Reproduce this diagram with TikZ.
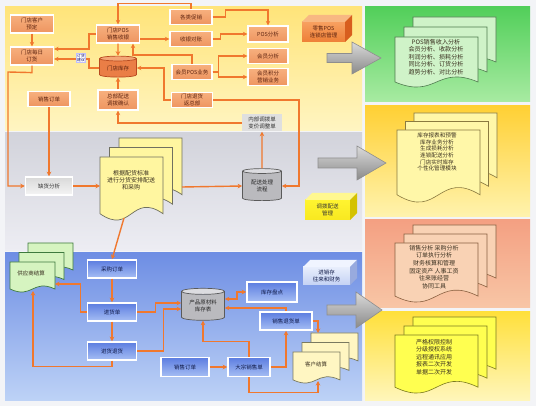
\documentclass[tikz,border=0pt]{standalone}
\usepackage{fontspec}
\setmainfont{Noto Sans CJK SC}
\usetikzlibrary{shapes.geometric,arrows.meta,calc}
\definecolor{pagebg}{HTML}{F3F4F7}
\definecolor{ylwtop}{HTML}{FFE47A}
\definecolor{ylwbot}{HTML}{FFF5C2}
\definecolor{grytop}{HTML}{D2D3DB}
\definecolor{grybot}{HTML}{EDEDF3}
\definecolor{blutop}{HTML}{6E8EE4}
\definecolor{blubot}{HTML}{BDD2F6}
\definecolor{grntop}{HTML}{52CF5A}
\definecolor{grnbot}{HTML}{A8EBA2}
\definecolor{y2top}{HTML}{FFD034}
\definecolor{y2bot}{HTML}{FFF3AE}
\definecolor{saltop}{HTML}{F4A082}
\definecolor{salbot}{HTML}{F8C6A6}
\definecolor{y3top}{HTML}{FFE03C}
\definecolor{y3bot}{HTML}{FFF6BA}
\definecolor{lineor}{HTML}{F0782E}
\definecolor{obtop}{HTML}{F7B07E}
\definecolor{obbot}{HTML}{EE9560}
\definecolor{otext}{HTML}{5E2410}
\definecolor{bbtop}{HTML}{5C7DE0}
\definecolor{bbbot}{HTML}{A6BEF4}
\definecolor{btext}{HTML}{101A48}
\definecolor{dtext}{HTML}{3A3020}
\definecolor{gdoc}{HTML}{CFF3C8}
\definecolor{gdocl}{HTML}{4E7A4E}
\definecolor{ydoc}{HTML}{FFF7A8}
\definecolor{ydocl}{HTML}{8A7A40}
\definecolor{sdoc}{HTML}{F9D2B4}
\definecolor{sdocl}{HTML}{8A6040}
\definecolor{bdoc}{HTML}{FFFF50}
\definecolor{bdocl}{HTML}{7A7A20}
\definecolor{mdoc}{HTML}{FFF6A0}
\definecolor{mdocl}{HTML}{707060}
\definecolor{spdoc}{HTML}{D6F4C0}
\definecolor{spdocl}{HTML}{3E7A3E}
\definecolor{kdoc}{HTML}{FFF6C2}
\definecolor{kdocl}{HTML}{7A7A60}
\definecolor{cyOl}{HTML}{B84A20}
\definecolor{cyObody}{HTML}{EA7E46}
\definecolor{cyOend}{HTML}{F3A676}
\definecolor{cyGl}{HTML}{5A5A5A}
\definecolor{cyGbody}{HTML}{BABABE}
\definecolor{cyGend}{HTML}{DCDCE0}
\definecolor{arrl}{HTML}{8E8E8E}
\definecolor{arrtop}{HTML}{DADADA}
\definecolor{arrbot}{HTML}{8A8A8A}
\definecolor{cuOf1}{HTML}{F7A060}
\definecolor{cuOf2}{HTML}{EE7F36}
\definecolor{cuOt}{HTML}{F8B882}
\definecolor{cuOs}{HTML}{D85E1E}
\definecolor{cuYf1}{HTML}{FFF430}
\definecolor{cuYf2}{HTML}{F8E820}
\definecolor{cuYt}{HTML}{FFF890}
\definecolor{cuYs}{HTML}{D4C200}
\definecolor{cuBf1}{HTML}{E8EEFC}
\definecolor{cuBf2}{HTML}{C4D2F4}
\definecolor{cuBt}{HTML}{F0F4FF}
\definecolor{cuBs}{HTML}{98AADE}
\newcommand\bxf{\fontsize{5.5}{6.6}\selectfont}
\newcommand\gfnt{\fontsize{6.1}{7.5}\selectfont}
\newcommand\yfnt{\fontsize{5.6}{6.6}\selectfont}
\newcommand\sfnt{\fontsize{6}{7.6}\selectfont}
\newcommand\mfnt{\fontsize{6}{6.8}\selectfont}
\newcommand\mydoc[5]{%
 \pgfmathsetmacro\dXa{#2}\pgfmathsetmacro\dYa{#3}\pgfmathsetmacro\dXb{#4}\pgfmathsetmacro\dYb{#5}%
 \pgfmathsetmacro\dH{\dYb-\dYa}\pgfmathsetmacro\dC{0.35*\dH}%
 \pgfmathsetmacro\dY{\dYb-0.1*\dH}\pgfmathsetmacro\dXm{0.5*(\dXa+\dXb)}%
 \pgfmathsetmacro\dCu{\dY-\dC}\pgfmathsetmacro\dCd{\dY+\dC}%
 \path[#1] (\dXa,\dYa) -- (\dXb,\dYa) -- (\dXb,\dY) .. controls (\dXm,\dCu) and (\dXm,\dCd) .. (\dXa,\dY) -- cycle;}
\newcommand\mystack[7]{%
 \mydoc{#1}{(#2)+2*(#6)}{(#3)-2*(#7)}{(#4)+2*(#6)}{(#5)-2*(#7)}%
 \mydoc{#1}{(#2)+(#6)}{(#3)-(#7)}{(#4)+(#6)}{(#5)-(#7)}%
 \mydoc{#1}{#2}{#3}{#4}{#5}}
\newcommand\mycube[8]{%
 \fill[#6] (#1,#2) rectangle ({#1+#3},{#2+#4});
 \fill[#7] (#1,#2) -- ({#1+#5},{#2-#5}) -- ({#1+#3+#5},{#2-#5}) -- ({#1+#3},#2) -- cycle;
 \fill[#8] ({#1+#3},#2) -- ({#1+#3+#5},{#2-#5}) -- ({#1+#3+#5},{#2+#4-#5}) -- ({#1+#3},{#2+#4}) -- cycle;}
\newcommand\bigarrow[6]{% x1 x2 tip yc bodyhalf headhalf
 \path[top color=arrtop, bottom color=arrbot, draw=arrl, line width=0.6pt]
  (#1,{#4-#5}) -- (#2,{#4-#5}) -- (#2,{#4-#6}) -- (#3,#4) -- (#2,{#4+#6}) -- (#2,{#4+#5}) -- (#1,{#4+#5}) -- cycle;}
\tikzset{
 conn/.style={draw=lineor, line width=1.4pt, -{Stealth[length=4.5pt,width=4.5pt]}},
 biconn/.style={draw=lineor, line width=1.4pt, {Stealth[length=4.5pt,width=4.5pt]}-{Stealth[length=4.5pt,width=4.5pt]}},
 obox/.style={rectangle, top color=obtop, bottom color=obbot, draw=white, line width=1.2pt,
   minimum width=43pt, minimum height=17pt, inner sep=0.5pt, align=center, font=\bxf, text=otext},
 bbox/.style={rectangle, top color=bbtop, bottom color=bbbot, draw=white, line width=1.5pt,
   minimum width=49pt, minimum height=18pt, inner sep=0.5pt, align=center, font=\bxf, text=btext},
 gbox/.style={rectangle, top color=white!70!gray, bottom color=white!92!gray, draw=white, line width=1.5pt,
   minimum width=47pt, minimum height=18pt, inner sep=0.5pt, align=center, font=\bxf, text=black!80},
 cylo/.style={cylinder, shape border rotate=90, aspect=0.22, draw=cyOl, line width=0.7pt,
   cylinder uses custom fill, cylinder body fill=cyObody, cylinder end fill=cyOend,
   inner sep=0pt, align=center, font=\bxf, text=otext},
 cylg/.style={cylinder, shape border rotate=90, aspect=0.22, draw=cyGl, line width=0.7pt,
   cylinder uses custom fill, cylinder body fill=cyGbody, cylinder end fill=cyGend,
   inner sep=0pt, align=center, font=\bxf, text=black!85},
 doctext/.style={align=center, inner sep=0pt, text=dtext},
 cubetext/.style={align=center, inner sep=0pt, font=\bxf}
}
\begin{document}
\begin{tikzpicture}[x=1pt,y=-1pt]
\useasboundingbox (0,0) rectangle (536,406);
\fill[pagebg] (0,0) rectangle (536,406);
% panels
\fill[top color=ylwtop, bottom color=ylwbot] (5,7) rectangle (362,131);
\fill[top color=grytop, bottom color=grybot] (5,133) rectangle (362,251);
\fill[top color=blutop, bottom color=blubot] (5,253) rectangle (362,400);
\fill[top color=grntop, bottom color=grnbot] (365,7) rectangle (530,102);
\fill[top color=y2top, bottom color=y2bot] (365,106) rectangle (530,217);
\fill[top color=saltop, bottom color=salbot] (365,220) rectangle (530,308);
\fill[top color=y3top, bottom color=y3bot] (365,312) rectangle (530,400);
% right document stacks
\mystack{fill=gdoc, draw=gdocl, line width=0.6pt}{395}{37}{478}{87}{9}{10}
\node[doctext, font=\gfnt] (r1) at (436,57) {POS销售收入分析\\会员分析、收款分析\\利润分析、损耗分析\\同比分析、订货分析\\趋势分析、对比分析};
\mystack{fill=ydoc, draw=ydocl, line width=0.6pt}{397}{130}{480}{202}{8.5}{8.5}
\node[doctext, font=\yfnt] (r2) at (437,152) {库存报表和预警\\库存业务分析\\生成损耗分析\\连锁配送分析\\门店实时库存\\个性化管理模块};
\mystack{fill=sdoc, draw=sdocl, line width=0.6pt}{395}{243}{478}{302}{9}{9}
\node[doctext, font=\sfnt] (r3) at (434,267) {销售分析\ 采购分析\\订单执行分析\\财务核算和管理\\固定资产\ 人事工资\\往来账经营\\协同工具};
\mystack{fill=bdoc, draw=bdocl, line width=0.6pt}{395}{335}{478}{393}{9}{9}
\node[doctext, font=\sfnt] (r4) at (434,357) {严格权限控制\\分级授权系统\\远程通讯应用\\报表二次开发\\单据二次开发};
% big arrows
\bigarrow{327}{352}{381}{58}{4.5}{16}
\bigarrow{318}{357}{386}{163}{5}{17}
\bigarrow{327}{356}{382}{310}{5}{18}
% 3D boxes
\mycube{302}{22}{43}{20}{7}{top color=cuOf1, bottom color=cuOf2}{fill=cuOt}{fill=cuOs}
\node[cubetext, text=otext] (pos3d) at (323.5,32) {零售POS\\连锁店管理};
\mycube{305}{200}{45}{20}{7}{top color=cuYf1, bottom color=cuYf2}{fill=cuYt}{fill=cuYs}
\node[cubetext, text=black!80] (db3d) at (327.5,210) {调拨配送\\管理};
\mycube{303}{267}{47}{18}{7}{top color=cuBf1, bottom color=cuBf2}{fill=cuBt}{fill=cuBs}
\node[cubetext, text=btext] (jx3d) at (326.5,276) {进销存\\往来和财务};
% top panel nodes
\node[obox, minimum height=18pt] (A) at (32,24) {门店客户\\预定};
\node[obox, minimum height=18pt] (B) at (32,56) {门店每日\\订货};
\node[obox, minimum height=18pt] (C) at (118,34) {门店POS\\销售收银};
\node[cylo, minimum width=37pt, minimum height=21pt] (D) at (118,68) {门店库存};
\node[obox, minimum width=40pt, minimum height=20pt] (E) at (118,100) {总部配送\\调拨确认};
\node[obox, minimum width=42pt, minimum height=15pt] (F) at (49,99) {销售订单};
\node[obox, minimum width=42pt, minimum height=15pt] (G) at (191,17) {各类促销};
\node[obox, minimum width=42pt, minimum height=15pt] (H) at (191,39) {收银对账};
\node[obox, minimum width=40pt, minimum height=16pt] (I) at (268,34) {POS分析};
\node[obox, minimum width=40pt, minimum height=15pt] (J) at (268,56) {会员分析};
\node[obox, minimum width=40pt, minimum height=15pt] (K) at (192,72) {会员POS业务};
\node[obox, minimum width=40pt, minimum height=17pt] (L) at (268,77) {会员积分\\营销业务};
\node[obox, minimum width=41pt, minimum height=15pt] (M) at (192,100) {门店退货\\返总部};
\node[rectangle, fill=white!75!gray, minimum width=40pt, minimum height=17pt, inner sep=0.5pt, align=center, font=\bxf, text=black!80] (N) at (262,123) {内部调拨单\\变价调整单};
% middle panel nodes
\node[gbox] (O) at (49,186) {缺货分析};
\mystack{fill=mdoc, draw=mdocl, line width=0.7pt}{100}{157}{163}{220}{9.5}{9.5}
\node[doctext, font=\mfnt] (P) at (131,180) {根据配货标准\\进行分货安排配送\\和采购};
\coordinate (Pin) at (100,186);
\coordinate (Pout) at (182,187);
\coordinate (Pbot) at (124,218);
\node[cylg, minimum width=39pt, minimum height=32pt] (Q) at (262,186) {配送处理\\流程};
% bottom panel nodes
\mystack{fill=spdoc, draw=spdocl, line width=0.7pt}{10}{262}{55}{292}{9}{9.5}
\node[doctext, font=\bxf] (S) at (31,273) {供应商结算};
\coordinate (Sin) at (55,284);
\coordinate (Sbot) at (33,291);
\node[bbox] (T) at (112,269) {采购订单};
\node[bbox] (U) at (112,312) {进货单};
\node[bbox] (V) at (112,351) {进货退货};
\node[cylg, minimum width=43pt, minimum height=32pt] (W) at (203,306) {产品原材料\\库存表};
\node[bbox, minimum width=50pt, minimum height=20pt] (X) at (272,292) {库存盘点};
\node[bbox, minimum width=52pt, minimum height=18pt] (Y) at (286,321) {销售退货单};
\node[bbox, minimum width=48pt, minimum height=19pt] (Z) at (185,367) {销售订单};
\node[bbox, minimum width=42pt, minimum height=19pt] (AA) at (249,367) {大宗销售单};
\mystack{fill=kdoc, draw=kdocl, line width=0.7pt}{293}{352}{340}{383}{9}{9.5}
\node[doctext, font=\bxf] (AB) at (316,364) {客户结算};
\coordinate (ABbot) at (318,381);
\coordinate (ABtop) at (318,333);
% connectors top
\draw[conn] (A) -- (B);
\draw[conn] (C.west) -- ++(-7,0) |- ([yshift=7pt]B.east);
\draw[conn] (D.west) -- ++(-10,0) |- ([yshift=-3pt]B.east);
\draw[conn] (C) -- (D);
\draw[conn] (E) -- (D);
\draw[conn] ([yshift=-5pt]C.east) -- (H.west);
\draw[conn] (G.north) -- ++(0,-5.5) -| (C.north);
\draw[conn] (G.east) -- ++(13,0) -- ++(0,-7) -| (I.north);
\draw[conn] (H.east) -- ++(8,0) |- (I.west);
\draw[conn] (K.east) -- ++(6,0) |- (J.west);
\draw[conn] (K.east) -- ++(6,0) |- (L.west);
\draw[conn] (K.north) -- ++(0,-9) -| ([xshift=15pt]C.south);
\draw[conn] (M.west) -- ++(-7,0) |- (D.east);
\draw[conn] (M.east) -- ++(86,0) |- (Q.east);
\draw[conn] (N.west) -| (E.south);
\draw[conn] (Q) -- (N);
% connectors middle
\draw[conn] (B.south) -- ++(0,7) -- (8,72) |- (O.west);
\draw[conn] (F) -- (O);
\draw[conn] (O.east) -- (Pin);
\draw[conn] (Pout) -- (Q.west);
\draw[conn] (Pbot) -- (T.north);
% connectors bottom
\draw[conn] (T) -- (U);
\draw[conn] (U) -- (V);
\draw[conn] (U.west) -- ++(-6,0) |- (Sin);
\draw[conn] (V.south) -- ++(0,6) -| (Sbot);
\draw[conn] (U.east) -- ++(18,0) |- ([yshift=3pt]W.west);
\draw[conn] (V.east) -- ++(26,0) |- ([yshift=-3pt]W.west);
\draw[biconn] ([yshift=7pt]W.east) -- ++(12,0) |- (X.west);
\draw[conn] (Y.north) |- ([yshift=-2pt]W.east);
\draw[conn] (AA.north) -- ++(0,-15) -| (W.south);
\draw[conn] (Z) -- (AA);
\draw[conn] (AA.east) -| (Y.south);
\draw[conn] (AA.south) -- ++(0,15) -| (ABbot);
\draw[conn] (Y.east) -| (ABtop);
% small label on connector
\node[rectangle, fill=white, draw=blue!25, line width=0.4pt, inner sep=0.6pt, align=center,
  font=\fontsize{3.8}{4.4}\selectfont, text=blue!40!black] (lbl) at (81,58) {订货\\建议};
\end{tikzpicture}
\end{document}
